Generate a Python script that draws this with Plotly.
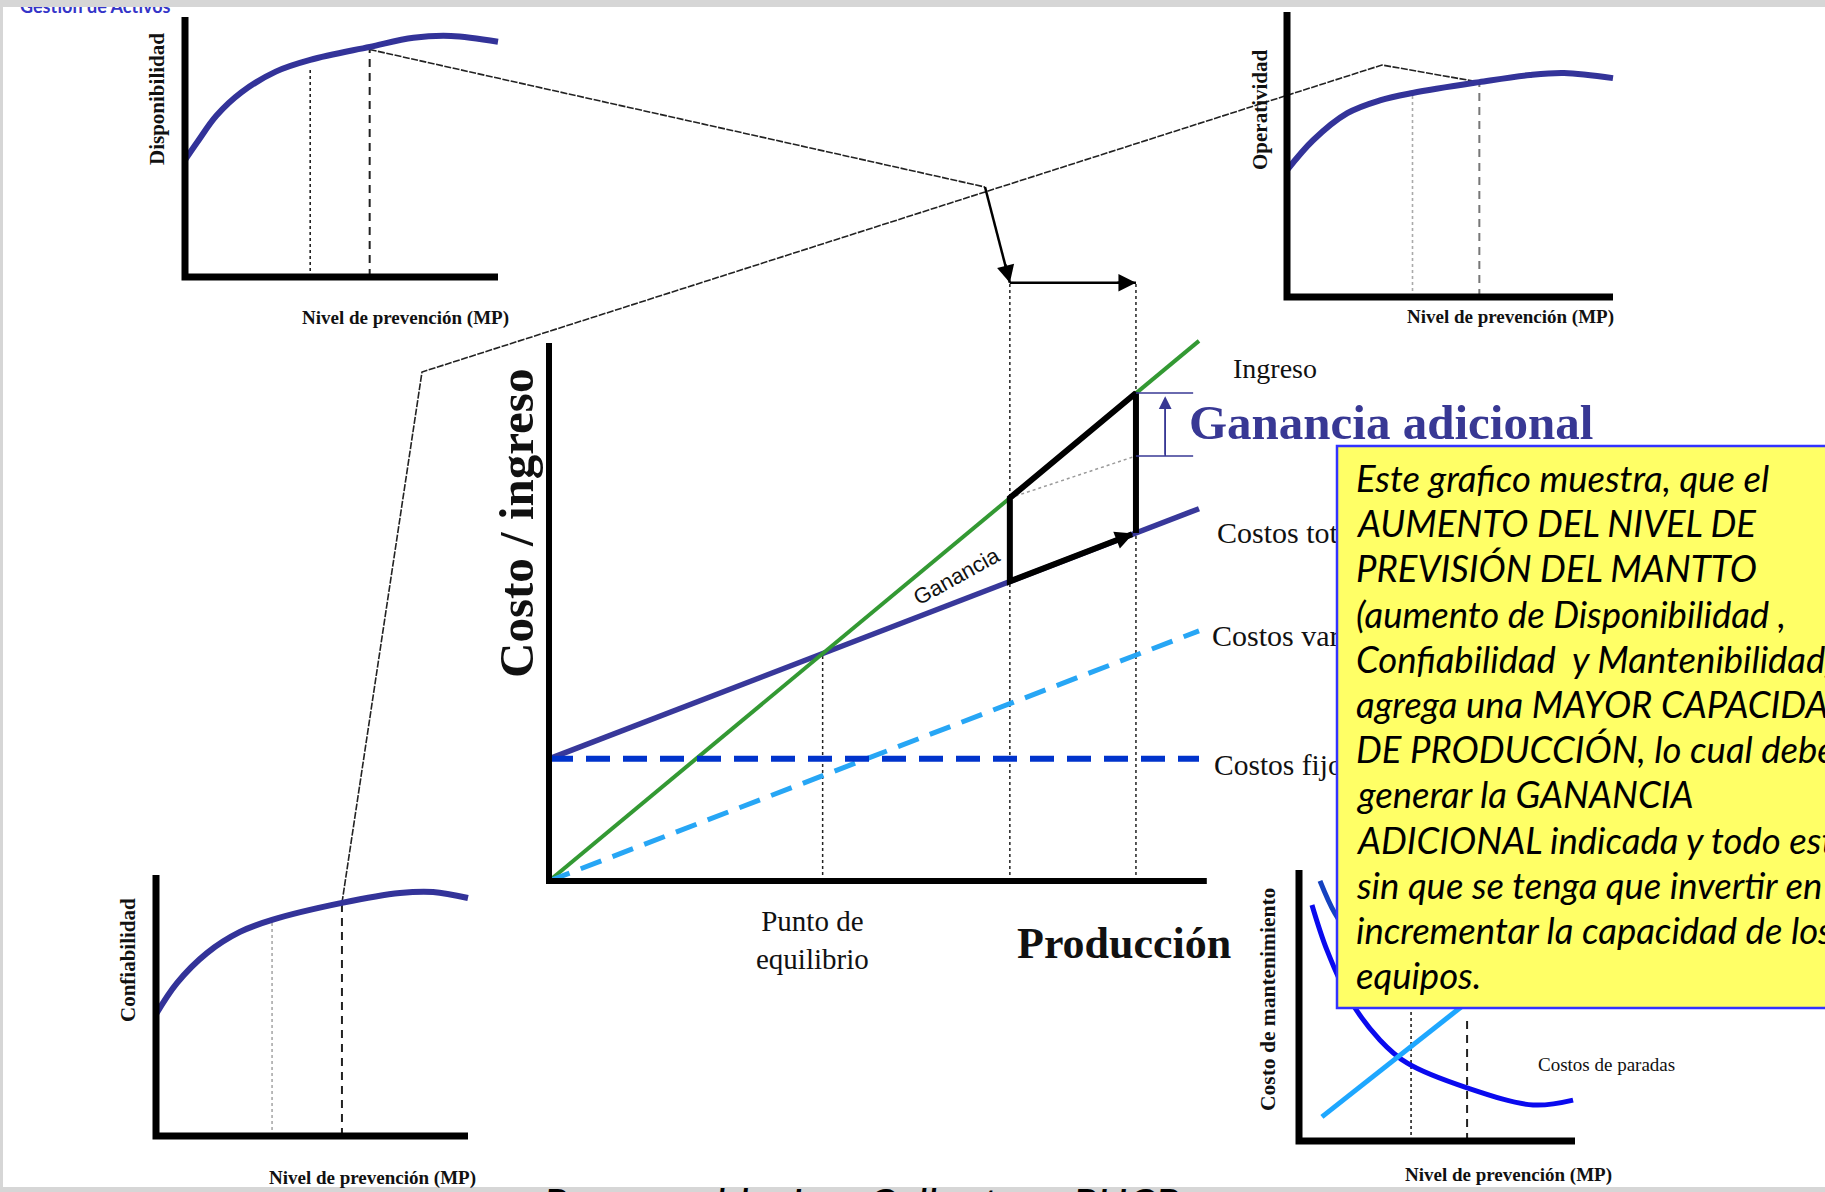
import plotly.graph_objects as go

W, H = 1825, 1192

# ---------------- data ----------------
# Disponibilidad vs nivel de prevención (MP)
prev_disp = [0, 0.4, 1.0, 1.8, 2.9, 4.0, 5.9, 7.3, 8.5, 10.0]
disponibilidad = [45, 52, 62, 71, 79, 83.5, 88.5, 92, 92.7, 90.5]
niveles_disp = [4.0, 5.9]
alturas_disp = [80.5, 87.5]

# Operatividad vs nivel de prevención (MP)
prev_oper = [0, 0.8, 1.85, 2.85, 3.85, 5.9, 7.45, 8.5, 10]
operatividad = [44.5, 55, 64.5, 69, 71.6, 75.4, 77.9, 78.6, 76.8]
niveles_oper = [3.85, 5.9]
alturas_oper = [71.6, 75.4]

# Confiabilidad vs nivel de prevención (MP)
prev_conf = [0, 0.67, 1.63, 2.69, 3.72, 5.96, 7.82, 8.88, 10]
confiabilidad = [46.7, 58.6, 70.1, 78.2, 82.8, 89.3, 93.1, 93.5, 91.2]
niveles_conf = [3.72, 5.96]
alturas_conf = [82.8, 89.3]

# Costo de mantenimiento vs nivel de prevención (MP)
prev_paradas = [0.47, 1.01, 1.85, 2.93, 3.91, 6.09, 8.48, 9.93]
costos_paradas = [87.1, 70.5, 52, 37.3, 28.8, 19.6, 13.3, 15.1]
prev_preventivo = [0.83, 9.5]
costos_preventivo = [8.9, 78.6]
prev_total = [0.76, 1.3, 2.0, 3.0, 4.0, 5.0, 6.0, 7.0, 8.0, 9.0]
costo_total_mant = [96, 84, 74, 66, 63, 65, 70, 76, 84, 92]
niveles_mant = [4.06, 6.09]
alturas_mant = [55, 45]

# Costo / ingreso vs producción
produccion = [0, 100]
ingreso = [0, 100.4]
costos_fijos = [22.7, 22.7]
costos_variables = [0, 46.5]
costos_totales = [22.7, 69.2]
punto_equilibrio = [42.1, 42.3]
niveles_prod = [70.9, 90.3]
ingreso_niveles = [71.2, 90.7]
costo_niveles = [55.7, 64.7]
ganancia_base = [71.2, 79.0]
altura_flecha = 111.2

# ---------------- panel geometry (pixel boxes) ----------------
PANELS = {
    "A": dict(ax=2, l=185, r=498, t=17, b=277, x0=0, x1=10, y0=0, y1=100, pad=(12, 12, 10, 12)),
    "B": dict(ax=3, l=1287, r=1613, t=12, b=297, x0=0, x1=10, y0=0, y1=100, pad=(12, 12, 10, 12)),
    "C": dict(ax=4, l=156, r=468, t=875, b=1136, x0=0, x1=10, y0=0, y1=100, pad=(12, 12, 12, 12)),
    "D": dict(ax=5, l=1299, r=1575, t=870, b=1141, x0=0, x1=10, y0=0, y1=100, pad=(12, 12, 12, 12)),
    "E": dict(ax=6, l=549, r=1199, t=343, b=881, x0=0, x1=100, y0=0, y1=100, pad=(12, 20, 80, 12)),
}


def scale(p):
    sx = (p["r"] - p["l"]) / (p["x1"] - p["x0"])
    sy = (p["b"] - p["t"]) / (p["y1"] - p["y0"])
    return sx, sy


def to_page(key, x, y):
    p = PANELS[key]
    sx, sy = scale(p)
    return p["l"] + (x - p["x0"]) * sx, p["b"] - (y - p["y0"]) * sy


SERIF = "Liberation Serif"
SANS = "Liberation Sans"
NOTE_FONT = "Lato"
NAVY = "#333399"

fig = go.Figure()
layout = dict(
    width=W, height=H, margin=dict(l=0, r=0, t=0, b=0),
    paper_bgcolor="#d6d6d6", plot_bgcolor="rgba(0,0,0,0)",
    showlegend=False,
    xaxis=dict(domain=[0, 1], range=[0, W], visible=False),
    yaxis=dict(domain=[0, 1], range=[H, 0], visible=False),
)
for key, p in PANELS.items():
    k = p["ax"]
    sx, sy = scale(p)
    pl, pr, pt, pb = p["pad"]
    layout[f"xaxis{k}"] = dict(domain=[(p["l"] - pl) / W, (p["r"] + pr) / W],
                               range=[p["x0"] - pl / sx, p["x1"] + pr / sx],
                               visible=False, anchor=f"y{k}")
    layout[f"yaxis{k}"] = dict(domain=[1 - (p["b"] + pb) / H, 1 - (p["t"] - pt) / H],
                               range=[p["y0"] - pb / sy, p["y1"] + pt / sy],
                               visible=False, anchor=f"x{k}")
fig.update_layout(**layout)


def line(key, xs, ys, color, width, dash="solid", shape="linear"):
    if key is None:
        xa, ya = "x", "y"
    else:
        k = PANELS[key]["ax"]
        xa, ya = f"x{k}", f"y{k}"
    fig.add_trace(go.Scatter(x=xs, y=ys, mode="lines", xaxis=xa, yaxis=ya,
                             line=dict(color=color, width=width, dash=dash, shape=shape),
                             hoverinfo="skip", showlegend=False))


def page_text(x, y, text, size, color="#111111", family=SERIF, pos="middle right"):
    fig.add_trace(go.Scatter(x=[x], y=[y], mode="text", text=[text], textposition=pos,
                             textfont=dict(family=family, size=size, color=color),
                             xaxis="x", yaxis="y", hoverinfo="skip", showlegend=False,
                             cliponaxis=False))


def note(x, y, text, size, color="#111111", family=SERIF, angle=0, xanchor="center",
         yanchor="middle", align="center"):
    fig.add_annotation(x=x / W, y=1 - y / H, xref="paper", yref="paper", text=text,
                       showarrow=False, textangle=angle, xanchor=xanchor, yanchor=yanchor,
                       align=align, font=dict(family=family, size=size, color=color))


def arrow(xref, yref, x, y, ax, ay, color, width, size, head=2):
    fig.add_annotation(x=x, y=y, ax=ax, ay=ay, xref=xref, yref=yref, axref=xref, ayref=yref,
                       text="", showarrow=True, arrowhead=head, arrowsize=size,
                       arrowwidth=width, arrowcolor=color)


# ---------------- connectors between panels ----------------
a_top = to_page("A", niveles_disp[1], alturas_disp[1])
b_top = to_page("B", niveles_oper[1], alturas_oper[1])
c_top = to_page("C", niveles_conf[1], alturas_conf[1])
junction = (985, 187)
elbow = (422, 372)
peak = (1382, 65)
link = "#222222"
line(None, [a_top[0], junction[0]], [a_top[1], junction[1]], link, 1.6, "7px,1.5px")
line(None, [c_top[0], elbow[0], peak[0], b_top[0]],
     [c_top[1], elbow[1], peak[1], b_top[1]], link, 1.6, "7px,1.5px")

q1_top = to_page("E", niveles_prod[0], altura_flecha)
q2_top = to_page("E", niveles_prod[1], altura_flecha)
line(None, [junction[0], q1_top[0]], [junction[1], q1_top[1]], "black", 2.5)
line(None, [q1_top[0], q2_top[0]], [q1_top[1], q2_top[1]], "black", 2.5)
arrow("x", "y", q1_top[0], q1_top[1], q1_top[0] - 5, q1_top[1] - 20, "black", 2.5, 1.4)
arrow("x", "y", q2_top[0], q2_top[1], q2_top[0] - 20, q2_top[1], "black", 2.5, 1.4)


# ---------------- small panels ----------------
def small_panel(key, xs, ys, niveles, alturas, dot_color, dash_color):
    line(key, [niveles[0]] * 2, [0, alturas[0]], dot_color, 1.6, "dot")
    line(key, [niveles[1]] * 2, [0, alturas[1]], dash_color, 2, "8px,6px")
    line(key, xs, ys, NAVY, 6, shape="spline")
    line(key, [0, 0, 10], [100, 0, 0], "black", 7)


small_panel("A", prev_disp, disponibilidad, niveles_disp, alturas_disp, "#222222", "#222222")
small_panel("B", prev_oper, operatividad, niveles_oper, alturas_oper, "#aaaaaa", "#777777")
small_panel("C", prev_conf, confiabilidad, niveles_conf, alturas_conf, "#aaaaaa", "#222222")

# maintenance cost panel
line("D", [niveles_mant[0]] * 2, [0, alturas_mant[0]], "#222222", 1.6, "dot")
line("D", [niveles_mant[1]] * 2, [0, alturas_mant[1]], "#222222", 2, "8px,6px")
line("D", prev_total, costo_total_mant, "#1542c0", 5, shape="spline")
line("D", prev_paradas, costos_paradas, "#0a0aee", 5, shape="spline")
line("D", prev_preventivo, costos_preventivo, "#1ea7ff", 5)
line("D", [0, 0, 10], [100, 0, 0], "black", 7)

# ---------------- break-even panel ----------------
line("E", [punto_equilibrio[0]] * 2, [0, punto_equilibrio[1]], "#222222", 1.5, "dot")
for q in niveles_prod:
    line("E", [q, q], [0, altura_flecha], "#222222", 1.5, "dot")
line("E", produccion, costos_totales, "#38389a", 5.5)
line("E", produccion, ingreso, "#339933", 4)
line("E", produccion, costos_variables, "#27a6f5", 5, "22px,12px")
line("E", produccion, costos_fijos, "#0033cc", 6, "24px,13px")
line("E", niveles_prod, ganancia_base, "#9a9a9a", 1.5, "dot")
q1, q2 = niveles_prod
line("E", [q2, q2, q1, q1, q2 - 0.6],
     [costo_niveles[1], ingreso_niveles[1], ingreso_niveles[0], costo_niveles[0], costo_niveles[1] - 0.25],
     "black", 6)
arrow("x6", "y6", q2 - 0.4, costo_niveles[1] - 0.1, q2 - 4, costo_niveles[1] - 1.8, "black", 4, 0.9)
# additional profit bracket
bx = 94.8
line("E", [q2, 99.1], [ingreso_niveles[1]] * 2, "#383894", 1.6)
line("E", [q2, 99.1], [ganancia_base[1]] * 2, "#383894", 1.6)
line("E", [bx, bx], [ganancia_base[1], ingreso_niveles[1] - 1], "#383894", 1.6)
arrow("x6", "y6", bx, ingreso_niveles[1] - 0.6, bx, ganancia_base[1], "#383894", 1.6, 1.6)
line("E", [0, 0, 101.2], [100, 0, 0], "black", 6)

# series labels (drawn as traces so the note box covers them)
page_text(1217, 535, "Costos totales", 30)
page_text(1212, 638, "Costos variables", 30)
page_text(1214, 768, "Costos fijos", 29.5)
page_text(20, 8, "<b>Gestion de Activos</b>", 18, color="#3535c8", family=NOTE_FONT)

# ---------------- panel labels ----------------
note(157, 99, "<b>Disponibilidad</b>", 21, angle=-90)
note(1260, 110, "<b>Operatividad</b>", 21, angle=-90)
note(128, 960, "<b>Confiabilidad</b>", 21, angle=-90)
note(1268, 1000, "<b>Costo de mantenimiento</b>", 21.5, angle=-90)
for cx, cy in [(405, 318), (1510, 317), (372, 1178), (1508, 1175)]:
    note(cx, cy, "<b>Nivel de prevención (MP)</b>", 19)
note(1606, 1064, "Costos de paradas", 19)

note(516, 524, "<b>Costo / ingreso</b>", 49, angle=-90)
note(1124, 943, "<b>Producción</b>", 44)
note(812, 940, "Punto de<br>equilibrio", 29)
note(1231, 368, "Ingreso", 28, xanchor="left")
note(1187, 422, "<b>Ganancia adicional</b>", 49, color="#383894", xanchor="left")
note(956, 576, "Ganancia", 22, family=SANS, angle=-29)

# ---------------- page frame and note box ----------------
fig.add_shape(type="rect", xref="paper", yref="paper", x0=3 / W, x1=1, y0=1 - 1187 / H, y1=1 - 7 / H,
              fillcolor="white", line_width=0, layer="below")
fig.add_shape(type="rect", xref="paper", yref="paper", x0=0, x1=1, y0=1 - 7 / H, y1=1,
              fillcolor="#d6d6d6", line_width=0, layer="above")
fig.add_shape(type="rect", xref="paper", yref="paper", x0=0, x1=1, y0=0, y1=1 - 1187 / H,
              fillcolor="#d6d6d6", line_width=0, layer="above")
fig.add_shape(type="rect", xref="paper", yref="paper", x0=1337 / W, x1=1.05,
              y0=1 - 1008 / H, y1=1 - 446 / H,
              fillcolor="#ffff66", line=dict(color="#3333ff", width=2.5), layer="above")

box_lines = [
    "Este grafico muestra, que el",
    "AUMENTO DEL NIVEL DE",
    "PREVISIÓN DEL MANTTO",
    "(aumento de Disponibilidad ,",
    "Confiabilidad  y Mantenibilidad)",
    "agrega una MAYOR CAPACIDAD",
    "DE PRODUCCIÓN, lo cual deberá",
    "generar la GANANCIA",
    "ADICIONAL indicada y todo esto",
    "sin que se tenga que invertir en",
    "incrementar la capacidad de los",
    "equipos.",
]
for i, txt in enumerate(box_lines):
    note(1354, 478 + i * 45.2, "<i>" + txt + "</i>", 36.5, color="black", family=NOTE_FONT,
         xanchor="left", align="left")

note(541, 1204, "<i>Responsable: Ing. Collantes - PUCP</i>", 44, color="black", family=NOTE_FONT,
     xanchor="left")

fig.write_html("out.html")
